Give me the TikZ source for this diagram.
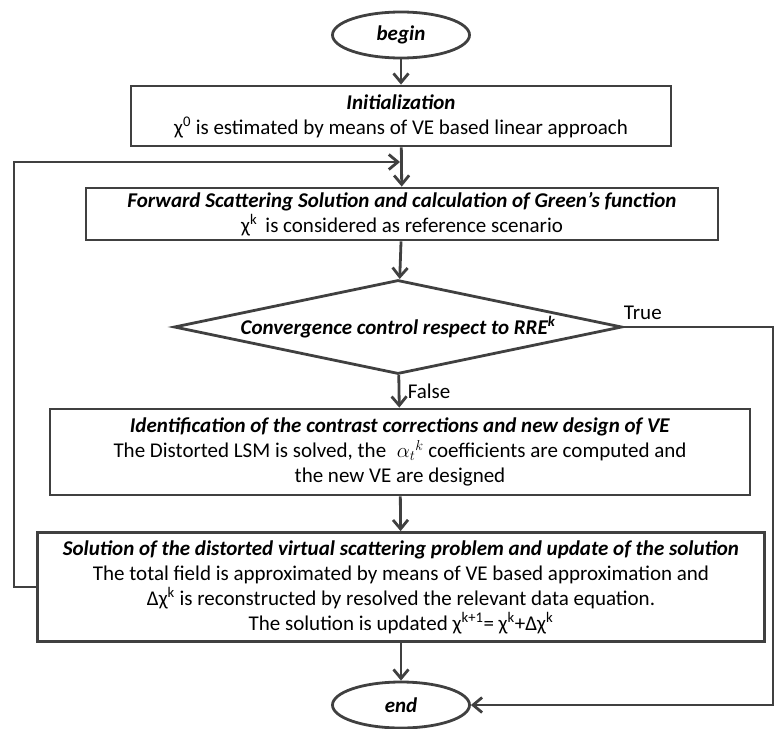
\documentclass[tikz,border=0pt]{standalone}
\usepackage{fontspec}
\setmainfont{Carlito}
\usetikzlibrary{shapes.geometric,arrows.meta}
\definecolor{linegray}{HTML}{404040}
\begin{document}
\begin{tikzpicture}[x=1pt,y=-1pt,
  font=\fontsize{21}{25}\selectfont,
  flow/.style={draw=linegray,line width=2.8pt,-{Straight Barb[length=9pt,width=15pt,line width=2.8pt]}},
  stepbox/.style={draw=linegray,line width=2.8pt,rectangle,align=center,inner sep=0pt},
  terminal/.style={draw=linegray,line width=2.8pt,ellipse,minimum width=137pt,minimum height=46pt,inner sep=0pt,font=\fontsize{21}{25}\selectfont\bfseries\itshape},
  test/.style={draw=linegray,line width=2.8pt,diamond,minimum width=448pt,minimum height=94pt,inner sep=0pt,aspect=4.8}]
\useasboundingbox (0,0) rectangle (776,728);
\node[terminal] (begin) at (401,35) {begin};
\node[stepbox,minimum width=540pt,minimum height=60pt] (init) at (401,116) {\textbf{\textit{Initialization}}\\χ\textsuperscript{0} is estimated by means of VE based linear approach};
\node[stepbox,minimum width=632pt,minimum height=52pt] (fwd) at (402,214) {\textbf{\textit{Forward Scattering Solution and calculation of Green’s function}}\\χ\textsuperscript{k}\, is considered as reference scenario};
\node[test] (conv) at (398,327) {\textbf{\textit{Convergence control respect to RRE\textsuperscript{k}}}};
\node[stepbox,minimum width=700pt,minimum height=86pt] (ident) at (400,452) {\textbf{\textit{Identification of the contrast corrections and new design of VE}}\\The Distorted LSM is solved, the\; $\alpha_t{}^k$ coefficients are computed and\\the new VE are designed};
\node[stepbox,minimum width=727pt,minimum height=109pt] (sol) at (401,587) {\textbf{\textit{Solution of the distorted virtual scattering problem and update of the solution}}\\The total field is approximated by means of VE based approximation and\\Δχ\textsuperscript{k} is reconstructed by resolved the relevant data equation.\\The solution is updated χ\textsuperscript{k+1}= χ\textsuperscript{k}+Δχ\textsuperscript{k}};
\node[terminal] (end) at (401,705) {end};
\coordinate (t1) at (773,327);
\coordinate (t2) at (773,705);
\coordinate (fb1) at (14,587);
\coordinate (fb2) at (14,162);
\coordinate (fb3) at (400,162);
\path[flow] (begin) -- (init);
\path[flow] (init) -- (fwd);
\path[flow] (fwd) -- (conv);
\path[flow] (conv) -- node[right,xshift=4pt]{False} (ident);
\path[flow] (ident) -- (sol);
\path[flow] (sol) -- (end);
\path[flow] (conv.east) -- node[above,pos=0.13,yshift=3pt]{True} (t1) -- (t2) -- (end.east);
\path[flow] (sol.west) -- (fb1) -- (fb2) -- (fb3);
\end{tikzpicture}
\end{document}
